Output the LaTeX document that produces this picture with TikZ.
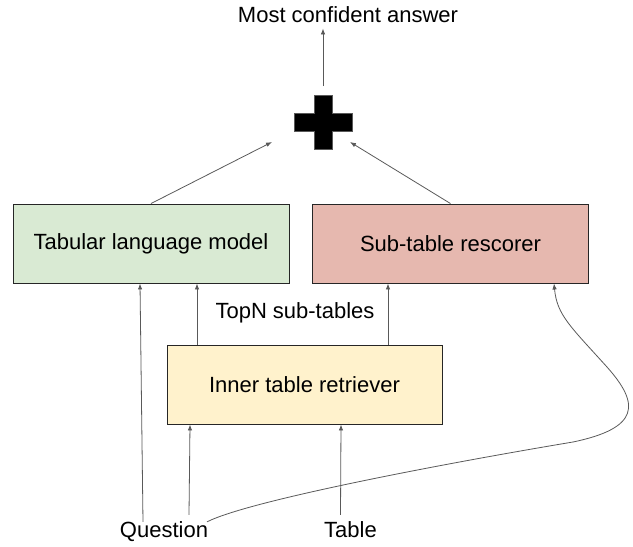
\documentclass[tikz,border=0pt]{standalone}
\usepackage{fontspec}
\setmainfont{Liberation Sans}
\usetikzlibrary{arrows.meta, calc}
\definecolor{lmgreen}{HTML}{D9EAD3}
\definecolor{rescorerred}{HTML}{E6B8AF}
\definecolor{retrieveryellow}{HTML}{FFF2CC}
\definecolor{wiregray}{HTML}{595959}

\begin{document}
\begin{tikzpicture}[
    x=1pt, y=-1pt,
    every node/.style={font=\fontsize{22}{26}\selectfont},
    >={Latex[length=6pt,width=4.5pt]},
    box/.style={draw=black!85, line width=0.9pt,
                minimum width=276pt, minimum height=79pt, inner sep=0pt},
    wire/.style={->, wiregray, line width=0.8pt},
    plaintext/.style={inner sep=0pt}
  ]

  \useasboundingbox (0,0) rectangle (633,547);

  % ============================================================
  %  Boxes
  % ============================================================
  \node[box, fill=lmgreen]         (tlm)       at (151,243.5) {Tabular language model};
  \node[box, fill=rescorerred]     (rescorer)  at (450.5,243.5) {Sub-table rescorer};
  \node[box, fill=retrieveryellow,
        minimum width=275pt]       (retriever) at (304.5,384.5) {Inner table retriever};

  % Inputs and output
  \node[plaintext, anchor=base] (question) at (164,537) {Question};
  \node[plaintext, anchor=base] (table)    at (350.5,537) {Table};
  \node[plaintext, anchor=base] (answer)   at (348,22) {Most confident answer};
  \node[plaintext] (topn) at (295,313) {TopN sub-tables};

  % --- Combination sign ---
  \coordinate (plus) at (323,122);
  \draw[wiregray, line width=0.5pt, fill=black]
    (plus) ++(-9,-27) -- ++(18,0) -- ++(0,18) -- ++(20,0) -- ++(0,18)
    -- ++(-20,0) -- ++(0,18) -- ++(-18,0) -- ++(0,-18) -- ++(-20,0)
    -- ++(0,-18) -- ++(20,0) -- cycle;
  \coordinate (plusleft)  at (272,142);
  \coordinate (plusright) at (350,142);
  \coordinate (plustop)   at (323,86);

  % ============================================================
  %  Connectors
  % ============================================================
  \draw[wire] (plustop) -- ($(answer.south)+(-25,6)$);
  \draw[wire] (tlm.north) -- (plusleft);
  \draw[wire] (rescorer.north) -- (plusright);

  % retriever output to both models
  \draw[wire] ($(retriever.north)+(-107.5,0)$) -- ($(tlm.south)+(46,0)$);
  \draw[wire] ($(retriever.north)+(83.5,0)$) -- ($(rescorer.south)+(-62.5,0)$);

  % question and table inputs
  \draw[wire] ($(question.north)+(-21,1)$) -- ($(tlm.south)+(-11,0)$);
  \draw[wire] ($(question.north)+(25,-6)$) -- ($(retriever.south)+(-114.5,0)$);
  \draw[wire] ($(table.north)+(-10,-6)$) -- ($(retriever.south)+(36.5,0)$);

  % question routed round to the rescorer
  \draw[wire] ($(question.north)+(43,1)$)
    .. controls (250,500) and (453,462) .. (573,442)
    .. controls (640,428) and (640,404) .. (607,367)
    .. controls (570,326) and (557,315) .. ($(rescorer.south)+(103.5,0)$);

\end{tikzpicture}
\end{document}
